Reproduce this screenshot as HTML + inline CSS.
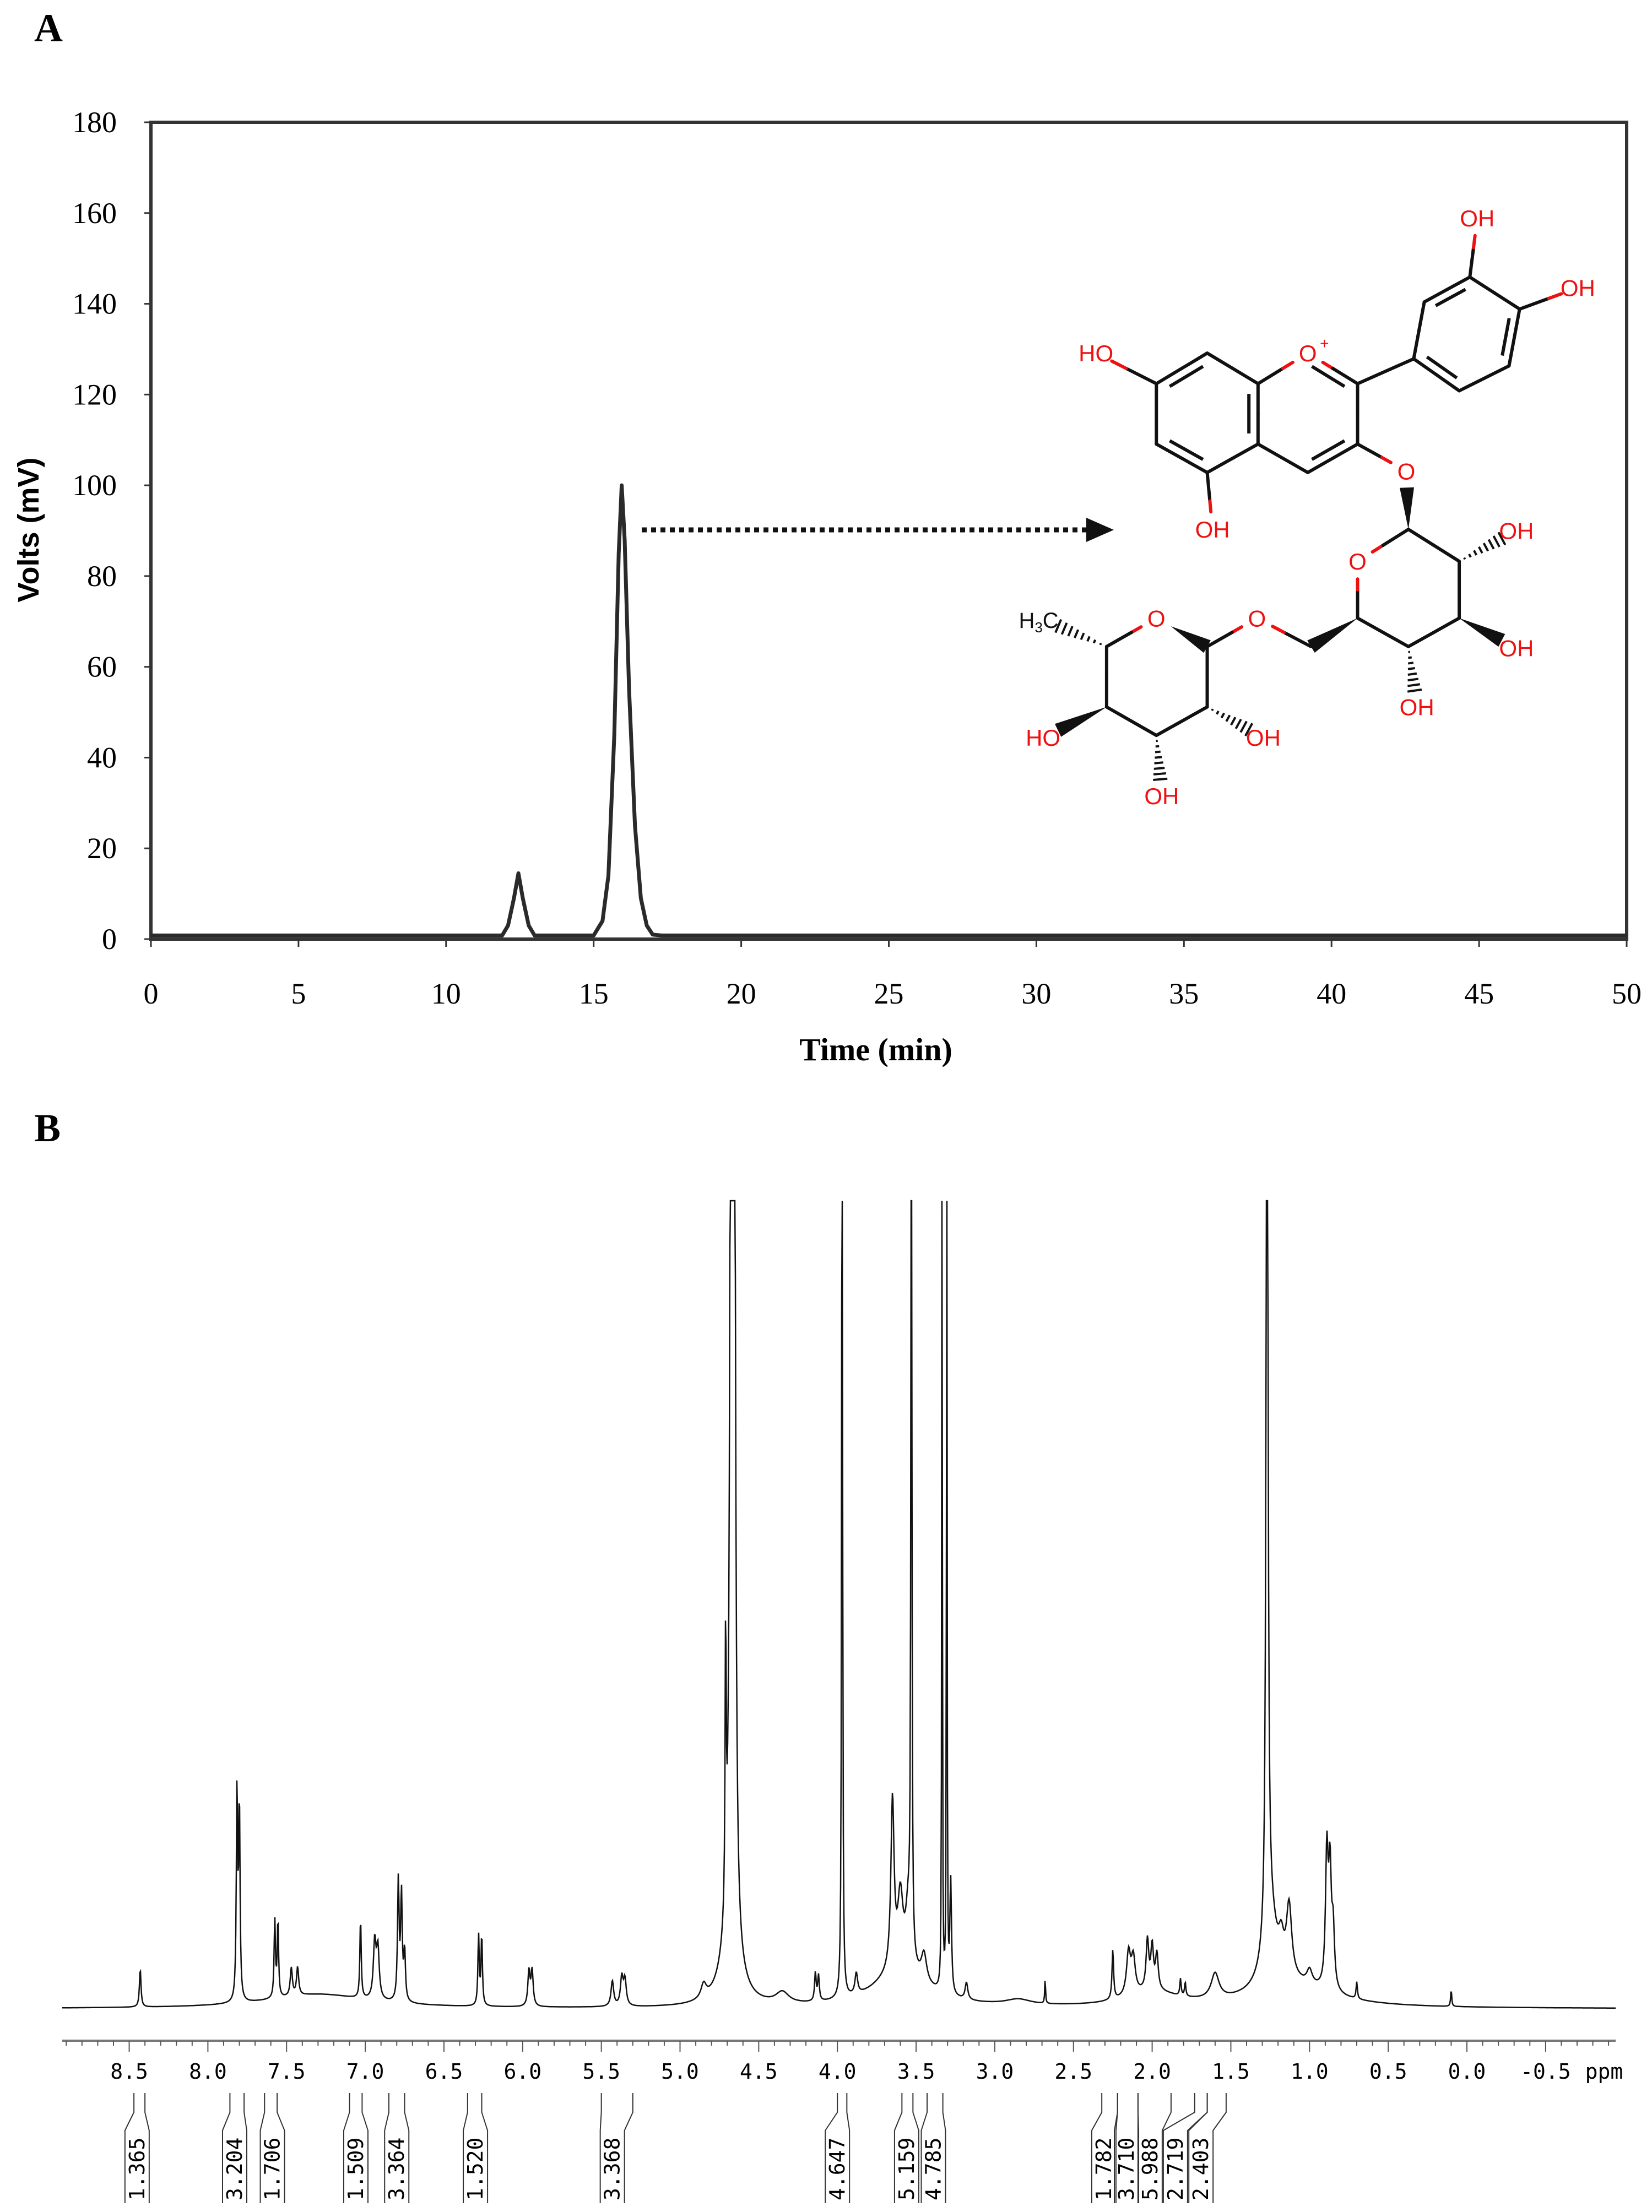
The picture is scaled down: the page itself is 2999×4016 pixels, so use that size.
<!DOCTYPE html>
<html><head><meta charset="utf-8"><style>
html,body{margin:0;padding:0;background:#fff;}
svg{display:block;}
</style></head><body>
<svg id="fig" width="2999" height="4016" viewBox="0 0 2999 4016" xmlns="http://www.w3.org/2000/svg">
<rect width="2999" height="4016" fill="#fff"/>
<text x="62" y="75" font-family="Liberation Serif, serif" font-weight="bold" font-size="72">A</text>
<text x="62" y="2072" font-family="Liberation Serif, serif" font-weight="bold" font-size="72">B</text>
<g id="chartA"></g>
<g id="mol"></g>
<g id="chartB"></g>
</svg>
<script>
// ---------- Panel A data ----------
const timeTicks = [0,5,10,15,20,25,30,35,40,45,50];
const voltTicks = [0,20,40,60,80,100,120,140,160,180];
const times = [0,11.9,12.1,12.3,12.45,12.6,12.8,13.0,15.0,15.3,15.5,15.7,15.85,15.95,16.05,16.2,16.4,16.6,16.8,17.0,17.3,50];
const volts = [0.8,0.8,3,9,14.5,9,3,0.8,0.8,4,14,45,85,100,88,55,25,9,3,1,0.8,0.8];

// ---------- Panel B data ----------
const ppmTickLabels = ["8.5","8.0","7.5","7.0","6.5","6.0","5.5","5.0","4.5","4.0","3.5","3.0","2.5","2.0","1.5","1.0","0.5","0.0","-0.5"];
const peakPpm = [8.43,7.815,7.80,7.575,7.555,7.47,7.43,7.03,6.94,6.92,6.79,6.77,6.75,6.28,6.26,5.96,5.94,5.43,5.37,5.35,4.85,4.71,4.675,4.655,4.35,4.14,4.12,3.97,3.88,3.65,3.60,3.55,3.53,3.45,3.335,3.305,3.28,3.18,2.85,2.68,2.25,2.15,2.12,2.03,2.00,1.97,1.82,1.79,1.60,1.27,1.25,1.13,1.18,1.00,0.89,0.87,0.85,0.70,0.10,4.68,3.6,7.3,2.0,1.1];
const peakHeight = [27,150,140,55,55,20,20,57,40,35,85,75,35,50,50,25,25,18,20,18,10,200,900,700,8,20,18,900,15,120,50,40,900,20,800,800,80,12,4,18,35,30,25,35,30,25,12,10,18,900,50,50,20,10,95,80,40,12,12,45,25,10,10,15];
const peakWidth = [.006,.005,.005,.005,.005,.008,.008,.005,.01,.01,.006,.006,.006,.005,.005,.008,.008,.01,.01,.01,.02,.004,.008,.008,.05,.006,.006,.003,.01,.012,.02,.02,.003,.02,.002,.002,.006,.01,.1,.003,.006,.015,.015,.01,.01,.01,.005,.005,.03,.006,.05,.02,.02,.02,.01,.01,.01,.005,.004,.06,.2,.4,.2,.3];
const integralValues = ["1.365","3.204","1.706","1.509","3.364","1.520","3.368","4.647","5.159","4.785","1.782","3.710","5.988","2.719","2.403"];
const integralFrom = [8.47,7.86,7.64,7.10,6.85,6.35,5.50,4.00,3.59,3.43,2.32,2.22,2.09,1.73,1.65];
const integralTo = [8.40,7.77,7.56,7.02,6.75,6.26,5.30,3.94,3.52,3.33,2.22,2.09,1.88,1.65,1.53];
const integralLabelPpm = [8.45,7.83,7.59,7.06,6.80,6.30,5.43,4.00,3.56,3.39,2.307,2.163,2.013,1.852,1.69];

const NS='http://www.w3.org/2000/svg';
function el(tag, attrs, parent, txt){const e=document.createElementNS(NS,tag);for(const k in attrs)e.setAttribute(k,attrs[k]);if(txt!==undefined)e.textContent=txt;parent.appendChild(e);return e;}

// ---------- Panel A ----------
const A=document.getElementById('chartA');
const ax0=274, ax1=2953, ay0=1705, ay180=222;
const xA=t=>ax0+(t/50)*(ax1-ax0);
const yA=v=>ay0-(v/180)*(ay0-ay180);
let fr=el('rect',{x:ax0,y:ay180,width:ax1-ax0,height:ay0-ay180,fill:'none',stroke:'#333',"stroke-width":6},A);

timeTicks.forEach(t=>{
  let l=el('line',{x1:xA(t),x2:xA(t),y1:ay0,y2:ay0+14,stroke:'#333','stroke-width':3},A);
  
  let tx=el('text',{x:xA(t),y:1822,'text-anchor':'middle','font-family':'Liberation Serif, serif','font-size':54},A,String(t));
  
});
voltTicks.forEach(v=>{
  let l=el('line',{x1:ax0-12,x2:ax0,y1:yA(v),y2:yA(v),stroke:'#333','stroke-width':3},A);
  
  let tx=el('text',{x:212,y:yA(v)+18,'text-anchor':'end','font-family':'Liberation Serif, serif','font-size':54},A,String(v));
  
});
let xt=el('text',{x:1590,y:1925,'text-anchor':'middle','font-family':'Liberation Serif, serif','font-weight':'bold','font-size':58},A,'Time (min)');

let yt=el('text',{x:0,y:0,transform:'translate(70,962) rotate(-90)','text-anchor':'middle','font-family':'Liberation Sans, sans-serif','font-weight':'bold','font-size':54},A,'Volts (mV)');

let d='';times.forEach((t,i)=>{d+=(i?'L':'M')+xA(t).toFixed(1)+' '+yA(volts[i]).toFixed(1);});
let tr=el('path',{d:d,fill:'none',stroke:'#2a2a2a','stroke-width':7,'stroke-linejoin':'round'},A);

let arr=el('line',{x1:1165,y1:962,x2:1975,y2:962,stroke:'#111','stroke-width':9,'stroke-dasharray':'9 8'},A);

let ah=el('polygon',{points:'1972,940 2022,962 1972,984',fill:'#111'},A);


// ---------- Molecule ----------
const M=document.getElementById('mol');
const P=(x,y)=>[x*1.9224,y*1.29];
const at={a1:[1140,497],a2:[1188,540],a3:[1188,625],a4:[1140,665],a5:[1092,625],a6:[1092,540],
O1:[1235,497],c2:[1282,540],c3:[1282,625],c4:[1235,665],
b1:[1335,505],b2:[1345,425],b3:[1388,390],b4:[1435,435],b5:[1425,515],b6:[1378,550],
O3:[1328,663],g1:[1330,745],g2:[1378,790],g3:[1378,870],g4:[1330,910],g5:[1282,870],gO:[1282,790],
C6:[1238,910],O6:[1187,870],r1:[1140,910],rO:[1092,870],r5:[1045,910],r4:[1045,995],r3:[1092,1035],r2:[1140,995],
HO7:[1035,497],OH5:[1145,745],OH3p:[1395,307],OH4p:[1490,405],OHg2:[1432,747],OHg3:[1432,912],OHg4:[1338,995],
CH3:[985,872],HOr4:[985,1038],OHr2:[1193,1038],OHr3:[1097,1120]};
const hetero=new Set(['O1','O3','gO','O6','rO','HO7','OH5','OH3p','OH4p','OHg2','OHg3','OHg4','HOr4','OHr2','OHr3','CH3']);
function pt(n){return P(at[n][0],at[n][1]);}
function bond(a,b){
  let p=pt(a),q=pt(b);
  let ha=hetero.has(a),hb=hetero.has(b);
  const gap=32;
  let dx=q[0]-p[0],dy=q[1]-p[1],L=Math.hypot(dx,dy),ux=dx/L,uy=dy/L;
  let s=ha?[p[0]+ux*gap,p[1]+uy*gap]:p, e=hb?[q[0]-ux*gap,q[1]-uy*gap]:q;
  let m=[(p[0]+q[0])/2,(p[1]+q[1])/2];
  let l1=el('line',{x1:s[0],y1:s[1],x2:m[0],y2:m[1],stroke:ha?'#ee1111':'#111','stroke-width':6,'stroke-linecap':'round'},M);
  
  let l2=el('line',{x1:m[0],y1:m[1],x2:e[0],y2:e[1],stroke:hb?'#ee1111':'#111','stroke-width':6,'stroke-linecap':'round'},M);
  
}
function inner(a,b,cx,cy){
  let p=pt(a),q=pt(b),c=P(cx,cy);
  let f=0.8;
  let p2=[p[0]+(c[0]-p[0])*0.18,p[1]+(c[1]-p[1])*0.18],q2=[q[0]+(c[0]-q[0])*0.18,q[1]+(c[1]-q[1])*0.18];
  let mx=(p2[0]+q2[0])/2,my=(p2[1]+q2[1])/2;
  p2=[mx+(p2[0]-mx)*f,my+(p2[1]-my)*f];q2=[mx+(q2[0]-mx)*f,my+(q2[1]-my)*f];
  let l=el('line',{x1:p2[0],y1:p2[1],x2:q2[0],y2:q2[1],stroke:'#111','stroke-width':6},M);
  
}
function wedge(a,b,hashed){
  let p=pt(a),q=pt(b);let dx=q[0]-p[0],dy=q[1]-p[1],L=Math.hypot(dx,dy),ux=dx/L,uy=dy/L;
  if(hetero.has(b))q=[q[0]-ux*30,q[1]-uy*30];
  if(hetero.has(a))p=[p[0]+ux*30,p[1]+uy*30];
  let nx=-uy,ny=ux,w=13;
  if(!hashed){let pg=el('polygon',{points:`${p[0]},${p[1]} ${q[0]+nx*w},${q[1]+ny*w} ${q[0]-nx*w},${q[1]-ny*w}`,fill:'#111'},M);
    }
  else{for(let i=1;i<=8;i++){let t=i/8;let cx=p[0]+(q[0]-p[0])*t,cy=p[1]+(q[1]-p[1])*t;let ww=w*t;
    let l=el('line',{x1:cx+nx*ww,y1:cy+ny*ww,x2:cx-nx*ww,y2:cy-ny*ww,stroke:'#111','stroke-width':4},M);
    }}
}
[['a1','a2'],['a2','a3'],['a3','a4'],['a4','a5'],['a5','a6'],['a6','a1'],['a2','O1'],['O1','c2'],['c2','c3'],['c3','c4'],['c4','a3'],
['c2','b1'],['b1','b2'],['b2','b3'],['b3','b4'],['b4','b5'],['b5','b6'],['b6','b1'],
['a6','HO7'],['a4','OH5'],['b3','OH3p'],['b4','OH4p'],['c3','O3'],
['g1','g2'],['g2','g3'],['g3','g4'],['g4','g5'],['g5','gO'],['gO','g1'],['C6','O6'],['O6','r1'],
['rO','r5'],['r5','r4'],['r4','r3'],['r3','r2'],['r2','r1']].forEach(b=>bond(b[0],b[1]));
inner('a6','a1',1140,581);inner('a5','a4',1140,581);inner('a2','a3',1140,581);
inner('O1','c2',1235,581);inner('c3','c4',1235,581);
inner('b2','b3',1385,470);inner('b4','b5',1385,470);inner('b6','b1',1385,470);
wedge('g1','O3',false);wedge('g2','OHg2',true);wedge('g3','OHg3',false);wedge('g4','OHg4',true);
wedge('g5','C6',false);wedge('rO','r1',false);wedge('r5','CH3',true);wedge('r4','HOr4',false);wedge('r2','OHr2',true);wedge('r3','OHr3',true);
const labs=[['HO7','HO'],['OH5','OH'],['OH3p','OH'],['OH4p','OH'],['O1','O'],['O3','O'],['gO','O'],['O6','O'],['rO','O'],['OHg2','OH'],['OHg3','OH'],['OHg4','OH'],['HOr4','HO'],['OHr2','OH'],['OHr3','OH']];
labs.forEach(l=>{let p=pt(l[0]);let t=el('text',{x:p[0],y:p[1]+15,'text-anchor':'middle','font-family':'Liberation Sans, sans-serif','font-size':42,fill:'#ee1111'},M,l[1]);
});
let pl=pt('O1');let plus=el('text',{x:pl[0]+22,y:pl[1]-8,'font-family':'Liberation Sans, sans-serif','font-size':28,fill:'#ee1111'},M,'+');

let cp=pt('CH3');let ch=el('text',{x:cp[0]-8,y:cp[1]+15,'text-anchor':'middle','font-family':'Liberation Sans, sans-serif','font-size':40,fill:'#111'},M);

ch.innerHTML='H<tspan font-size="26" dy="8">3</tspan><tspan dy="-8">C</tspan>';

// ---------- Panel B ----------
const B=document.getElementById('chartB');
const ppm0X=2663, pxPerPpm=285.7, base=3647, topClip=2180;
const xB=p=>ppm0X-p*pxPerPpm;
const hScale=2.559;
let sd='';
for(let X=113;X<=2933;X+=1){
  let p=(ppm0X-X)/pxPerPpm, s=0;
  for(let i=0;i<peakPpm.length;i++){let z=(p-peakPpm[i])/peakWidth[i];s+=peakHeight[i]/(1+z*z);}
  let y=Math.max(topClip,base-s*hScale);
  sd+=(X===113?'M':'L')+X+' '+y.toFixed(1);
}
let sp=el('path',{d:sd,fill:'none',stroke:'#111','stroke-width':2.5},B);

let axl=el('line',{x1:113,x2:2933,y1:3705,y2:3705,stroke:'#777','stroke-width':4},B);

for(let k=-10;k<=89;k++){let p=k/10;let X=xB(p);if(X<113||X>2933)continue;let major=(k%5===0);
  let t=el('line',{x1:X,x2:X,y1:3705,y2:major?3725:3714,stroke:'#555','stroke-width':2},B);
  }
ppmTickLabels.forEach(s=>{let X=xB(parseFloat(s));
  let t=el('text',{x:X,y:3774,'text-anchor':'middle','font-family':'DejaVu Sans Mono, monospace','font-size':38},B,s);
  });
let ppml=el('text',{x:2912,y:3774,'text-anchor':'middle','font-family':'DejaVu Sans Mono, monospace','font-size':38},B,'ppm');

integralValues.forEach((v,i)=>{
  let xl=xB(integralFrom[i]),xr=xB(integralTo[i]),xc=xB(integralLabelPpm[i]),hw=22;
  let g=el('path',{d:`M${xl} 3800 L${xl} 3835 L${xc-hw} 3868 L${xc-hw} 4000 M${xr} 3800 L${xr} 3835 L${xc+hw} 3868 L${xc+hw} 4000`,fill:'none',stroke:'#333','stroke-width':2},B);
  
  let t=el('text',{x:0,y:0,transform:`translate(${xc+13},3995) rotate(-90)`,'font-family':'DejaVu Sans Mono, monospace','font-size':38},B,v);
  
});
</script>
</body></html>
